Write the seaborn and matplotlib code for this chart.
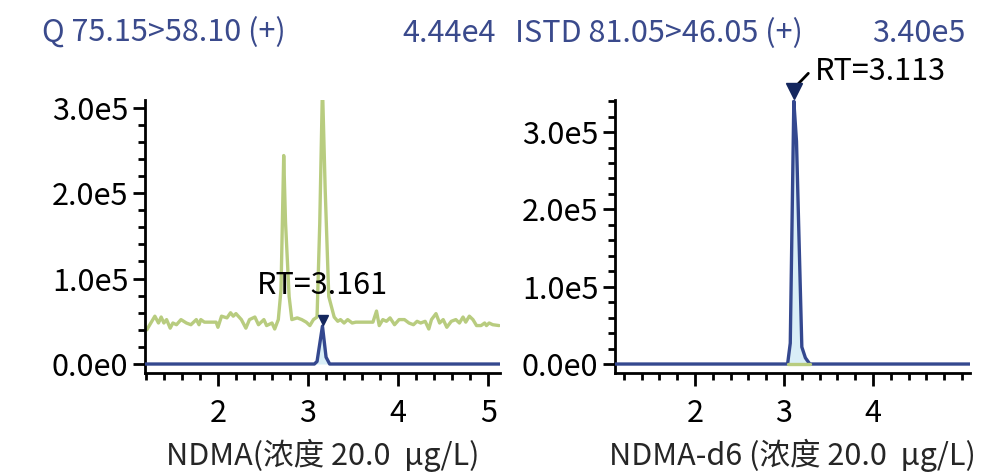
import numpy as np
import pandas as pd
import matplotlib
matplotlib.use("Agg")
import matplotlib.pyplot as plt
import seaborn as sns
from matplotlib.ticker import MultipleLocator, FixedLocator, FuncFormatter

# qualifier trace (green), left panel, intensity in 1e5 units
q_time = [1.21, 1.30, 1.34, 1.37, 1.40, 1.43, 1.47, 1.50, 1.54, 1.59, 1.65, 1.70,
          1.76, 1.79, 1.81, 1.85, 1.98, 2.00, 2.04, 2.10, 2.14, 2.17, 2.20, 2.26,
          2.31, 2.35, 2.41, 2.45, 2.51, 2.54, 2.60, 2.63, 2.67, 2.70, 2.73, 2.75,
          2.79, 2.82, 2.88, 2.93, 2.98, 3.02, 3.06, 3.10, 3.13, 3.16, 3.19, 3.23,
          3.29, 3.33, 3.36, 3.40, 3.44, 3.49, 3.53, 3.72, 3.76, 3.79, 3.83, 3.87,
          3.91, 3.96, 4.01, 4.07, 4.12, 4.17, 4.21, 4.25, 4.30, 4.34, 4.37, 4.42,
          4.46, 4.50, 4.54, 4.59, 4.64, 4.68, 4.72, 4.75, 4.79, 4.83, 4.87, 4.92,
          4.96, 4.98, 5.01, 5.05, 5.12]
q_int = [0.40, 0.56, 0.48, 0.55, 0.48, 0.52, 0.42, 0.48, 0.46, 0.52, 0.48, 0.46,
         0.52, 0.46, 0.52, 0.49, 0.49, 0.43, 0.56, 0.54, 0.60, 0.56, 0.59, 0.52,
         0.42, 0.52, 0.55, 0.46, 0.52, 0.45, 0.48, 0.41, 0.52, 0.87, 2.44, 1.66,
         0.79, 0.52, 0.54, 0.52, 0.49, 0.45, 0.52, 0.55, 1.65, 3.25, 2.05, 0.79,
         0.55, 0.50, 0.52, 0.48, 0.52, 0.48, 0.49, 0.49, 0.62, 0.45, 0.52, 0.50,
         0.54, 0.46, 0.52, 0.52, 0.48, 0.46, 0.50, 0.48, 0.50, 0.41, 0.52, 0.59,
         0.48, 0.52, 0.43, 0.50, 0.52, 0.48, 0.55, 0.49, 0.56, 0.52, 0.45, 0.45,
         0.48, 0.45, 0.48, 0.46, 0.45]

# quantifier trace (blue), left panel
a_time = [1.19, 3.07, 3.10, 3.16, 3.20, 3.24, 5.13]
a_int = [0.0, 0.0, 0.03, 0.444, 0.08, 0.0, 0.0]

# internal standard trace (blue), right panel
b_time = [1.10, 3.04, 3.07, 3.11, 3.14, 3.20, 3.24, 3.29, 5.09]
b_int = [0.0, 0.0, 0.27, 3.40, 2.88, 0.22, 0.08, 0.0, 0.0]

rt_left = 3.161
rt_right = 3.113
titles_left = ["Q 75.15>58.10 (+)", "4.44e4"]
titles_right = ["ISTD 81.05>46.05 (+)", "3.40e5"]
xlabels = ["NDMA(浓度 20.0  µg/L)", "NDMA-d6 (浓度 20.0  µg/L)"]

BLUE = "#34488f"
NAVY = "#14275e"
GREEN = "#b8cc7f"
FILL = "#d9eef7"
TITLE_C = "#3a4a8c"

sns.set_theme(style="ticks")
plt.rcParams["font.family"] = ["Noto Sans CJK SC", "DejaVu Sans"]

fig = plt.figure(figsize=(10.08, 4.76), dpi=100)
ax1 = fig.add_axes([0.1438, 0.2164, 0.3522, 0.5735])
ax2 = fig.add_axes([0.6101, 0.2164, 0.3522, 0.5735])

qdf = pd.DataFrame({"t": q_time, "i": np.array(q_int) * 1e5})
adf = pd.DataFrame({"t": a_time, "i": np.array(a_int) * 1e5})
bdf = pd.DataFrame({"t": b_time, "i": np.array(b_int) * 1e5})

# left panel
sns.lineplot(data=qdf, x="t", y="i", ax=ax1, color=GREEN, lw=2.4, zorder=2)
ax1.fill_between(adf["t"], adf["i"], 0, color=FILL, zorder=3, lw=0)
sns.lineplot(data=adf, x="t", y="i", ax=ax1, color=BLUE, lw=2.4, zorder=4)
pk = adf["i"].max()
ax1.plot([rt_left], [pk + 0.07e5], marker="v", ms=6.5, color=NAVY, zorder=5,
         clip_on=False)
ax1.text(rt_left, pk + 0.37e5, f"RT={rt_left:.3f}", ha="center", va="baseline",
         fontsize=22, color="black", zorder=6)
ax1.set_xlim(1.19, 5.13)
ax1.set_ylim(-0.105e5, 3.09e5)

# right panel
ax2.fill_between(bdf["t"], bdf["i"], 0, color=FILL, zorder=3, lw=0)
sns.lineplot(data=bdf, x="t", y="i", ax=ax2, color=BLUE, lw=2.4, zorder=4)
ax2.plot([b_time[1], b_time[-2]], [0, 0], color=GREEN, lw=2.4, zorder=4.5)
pk2 = bdf["i"].max()
ax2.plot([rt_right], [pk2 + 0.13e5], marker="v", ms=12, color=NAVY, zorder=5,
         clip_on=False)
ax2.plot([rt_right + 0.035, rt_right + 0.16], [pk2 + 0.21e5, pk2 + 0.36e5],
         color="black", lw=2, clip_on=False)
ax2.text(rt_right + 0.23, pk2 + 0.38e5, f"RT={rt_right:.3f}", ha="left",
         va="center", fontsize=22, color="black", clip_on=False)
ax2.set_xlim(1.10, 5.09)
ax2.set_ylim(-0.116e5, 3.415e5)

fmt = FuncFormatter(lambda v, p: "0.0e0" if abs(v) < 1 else f"{v / 1e5:.1f}e5")
for ax, lab in zip([ax1, ax2], xlabels):
    ax.set_xlabel(lab, fontsize=22, labelpad=7)
    ax.set_ylabel("")
    ax.yaxis.set_major_locator(MultipleLocator(1e5))
    ax.yaxis.set_minor_locator(MultipleLocator(2e4))
    ax.yaxis.set_major_formatter(fmt)
    ax.xaxis.set_minor_locator(MultipleLocator(0.2))
    ax.tick_params(axis="both", which="major", length=9, width=2,
                   labelsize=22, color="black", labelcolor="black")
    ax.tick_params(axis="both", which="minor", length=5, width=2, color="black")
    ax.tick_params(axis="y", pad=3)
    ax.tick_params(axis="x", pad=9)
    for s in ["top", "right"]:
        ax.spines[s].set_visible(False)
    for s in ["left", "bottom"]:
        ax.spines[s].set_linewidth(2)
        ax.spines[s].set_color("black")

ax1.xaxis.set_major_locator(FixedLocator([2, 3, 4, 5]))
ax2.xaxis.set_major_locator(FixedLocator([2, 3, 4]))

fig.text(0.042, 0.93, titles_left[0], ha="left", va="center", fontsize=22,
         color=TITLE_C)
fig.text(0.492, 0.93, titles_left[1], ha="right", va="center", fontsize=22,
         color=TITLE_C)
fig.text(0.511, 0.93, titles_right[0], ha="left", va="center", fontsize=22,
         color=TITLE_C)
fig.text(0.958, 0.93, titles_right[1], ha="right", va="center", fontsize=22,
         color=TITLE_C)

fig.savefig("out.png", dpi=100)
